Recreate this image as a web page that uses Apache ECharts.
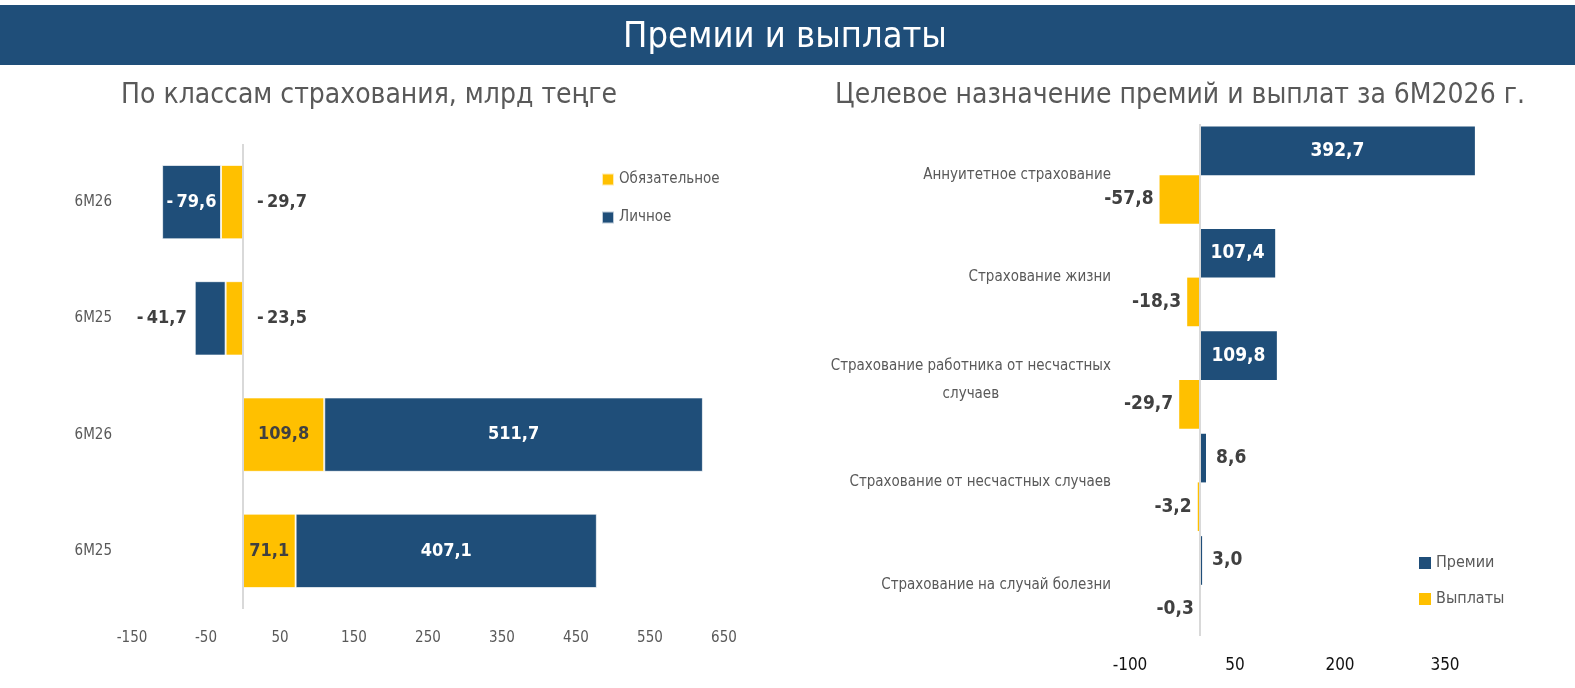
<!DOCTYPE html>
<html><head><meta charset="utf-8">
<script src="https://cdn.jsdelivr.net/npm/echarts@6/dist/echarts.min.js"></script>
<style>html,body{margin:0;padding:0;background:#fff}#c{width:1575px;height:688px}</style>
</head><body><div id="c"></div>
<script>
// ---- Left chart: by insurance classes, bn tenge ----
const leftCategories = ['6M26', '6M25', '6M26', '6M25'];
const mandatoryValues = [-29.7, -23.5, 109.8, 71.1];   // Обязательное
const personalValues = [-79.6, -41.7, 511.7, 407.1];   // Личное
const leftTicks = [-150, -50, 50, 150, 250, 350, 450, 550, 650];

// ---- Right chart: purpose of premiums and payouts 6M2026 ----
const rightCategories = [
  'Аннуитетное страхование',
  'Страхование жизни',
  'Страхование работника от несчастных\nслучаев',
  'Страхование от несчастных случаев',
  'Страхование на случай болезни'
];
const premiumValues = [392.7, 107.4, 109.8, 8.6, 3.0];
const payoutValues = [-57.8, -18.3, -29.7, -3.2, -0.3];
const rightTicks = [-100, 50, 200, 350];

const BLUE = '#1F4E79', YELLOW = '#FFC000';
const FONT = "'Liberation Sans Narrow','DejaVu Sans Condensed','Roboto Condensed',sans-serif";
const DARK = '#404040', GRAY = '#595959';

const fmt = (v, space) => {
  const s = Math.abs(v).toFixed(1).replace('.', ',');
  return v < 0 ? (space ? '-\u2009' : '-') + s : s;
};
const lblL = {show: true, fontFamily: FONT, fontWeight: 'bold', fontSize: 18};
const lblR = {show: true, fontFamily: FONT, fontWeight: 'bold', fontSize: 19};

const chart = echarts.init(document.getElementById('c'));
chart.setOption({
  animation: false,
  graphic: [
    {type: 'rect', shape: {x: 0, y: 5, width: 1575, height: 60}, style: {fill: BLUE}},
    {type: 'text', x: 785, y: 38, style: {text: 'Премии и выплаты', fill: '#fff', font: "36px " + FONT, textAlign: 'center', textVerticalAlign: 'middle'}},
    {type: 'text', x: 369, y: 96, style: {text: 'По классам страхования, млрд теңге', fill: GRAY, font: "28px " + FONT, textAlign: 'center', textVerticalAlign: 'middle'}},
    {type: 'text', x: 1180, y: 96, style: {text: 'Целевое назначение премий и выплат за 6М2026 г.', fill: GRAY, font: "28px " + FONT, textAlign: 'center', textVerticalAlign: 'middle'}}
  ],
  legend: [
    {data: ['Обязательное', 'Личное'], orient: 'vertical', left: 596, top: 167, itemGap: 23,
     icon: 'rect', itemWidth: 12, itemHeight: 12, textStyle: {fontFamily: FONT, fontSize: 15, color: GRAY}},
    {data: ['Премии', 'Выплаты'], orient: 'vertical', left: 1414, top: 550, itemGap: 20,
     icon: 'rect', itemWidth: 12, itemHeight: 12, textStyle: {fontFamily: FONT, fontSize: 16, color: GRAY}}
  ],
  grid: [
    {left: 132, width: 592, top: 144, height: 465},
    {left: 1130, right: 60, top: 124, height: 512}
  ],
  xAxis: [
    {gridIndex: 0, type: 'value', min: -150, max: 650, interval: 50,
     axisLine: {show: false}, axisTick: {show: false}, splitLine: {show: false},
     axisLabel: {margin: 22, fontFamily: FONT, fontSize: 15, color: GRAY,
       formatter: v => leftTicks.includes(v) ? String(v) : ''}},
    {gridIndex: 1, type: 'value', min: -100, max: 450, interval: 50,
     axisLine: {show: false}, axisTick: {show: false}, splitLine: {show: false},
     axisLabel: {margin: 21, fontFamily: FONT, fontSize: 17, color: '#111', showMaxLabel: false,
       formatter: v => rightTicks.includes(v) ? String(v) : ''}}
  ],
  yAxis: [
    {gridIndex: 0, type: 'category', data: leftCategories, inverse: true,
     axisLine: {show: false, onZero: false}, axisTick: {show: false},
     axisLabel: {margin: 20, fontFamily: FONT, fontSize: 15, color: GRAY}},
    {gridIndex: 1, type: 'category', data: rightCategories, inverse: true,
     axisLine: {show: false, onZero: false}, axisTick: {show: false},
     axisLabel: {margin: 19, fontFamily: FONT, fontSize: 15, color: GRAY,
       formatter: v => v.split('\n').map(l => '{c|' + l + '}').join('\n'),
       rich: {c: {align: 'center', fontFamily: FONT, fontSize: 15, color: GRAY, lineHeight: 28}}}}
  ],
  series: [
    {name: 'Обязательное', type: 'bar', xAxisIndex: 0, yAxisIndex: 0, stack: 'l', barWidth: '64%',
     itemStyle: {color: YELLOW, borderColor: 'rgba(255,255,255,0.7)', borderWidth: 1},
     data: mandatoryValues.map(v => ({value: v,
       label: v < 0 ? {position: 'right', distance: 14, color: DARK} : {position: 'inside', color: DARK}})),
     label: Object.assign({}, lblL, {formatter: p => fmt(p.value, true)}),
     markLine: {silent: true, symbol: 'none', label: {show: false},
       lineStyle: {color: '#d9d9d9', type: 'solid', width: 2}, data: [{xAxis: 0}]}},
    {name: 'Личное', type: 'bar', xAxisIndex: 0, yAxisIndex: 0, stack: 'l', barWidth: '64%',
     itemStyle: {color: BLUE, borderColor: 'rgba(255,255,255,0.7)', borderWidth: 1},
     data: personalValues.map(v => ({value: v,
       label: (v < 0 && v > -60) ? {position: 'left', distance: 8, color: DARK} : {position: 'inside', color: '#fff'}})),
     label: Object.assign({}, lblL, {formatter: p => fmt(p.value, true)})},
    {name: 'Премии', type: 'bar', xAxisIndex: 1, yAxisIndex: 1, barGap: '0%', barCategoryGap: '5%',
     itemStyle: {color: BLUE},
     data: premiumValues.map(v => ({value: v,
       label: v > 50 ? {position: 'inside', color: '#fff'} : {position: 'right', distance: 10, color: DARK}})),
     label: Object.assign({}, lblR, {formatter: p => fmt(p.value, false)}),
     markLine: {silent: true, symbol: 'none', label: {show: false},
       lineStyle: {color: '#d9d9d9', type: 'solid', width: 2}, data: [{xAxis: 0}]}},
    {name: 'Выплаты', type: 'bar', xAxisIndex: 1, yAxisIndex: 1, barGap: '0%', barCategoryGap: '5%',
     itemStyle: {color: YELLOW},
     data: payoutValues.map(v => ({value: v, label: {position: 'left', distance: 6, color: DARK}})),
     label: Object.assign({}, lblR, {formatter: p => fmt(p.value, false)})}
  ]
});
</script></body></html>
